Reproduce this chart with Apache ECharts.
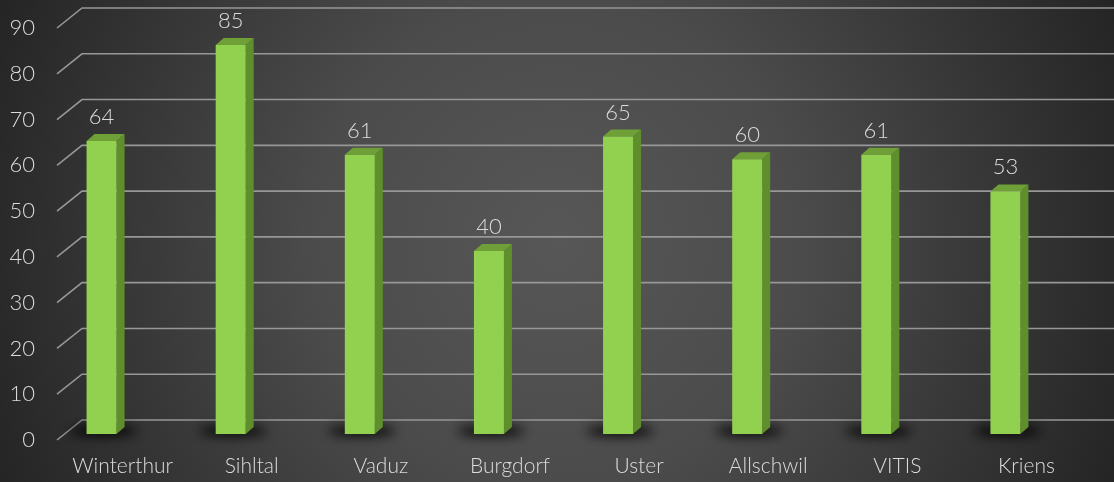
<!DOCTYPE html>
<html>
<head>
<meta charset="utf-8">
<style>
  html, body { margin: 0; padding: 0; background: #2a2a2a; }
  #chart { width: 1114px; height: 482px; }
</style>
<script src="https://cdn.jsdelivr.net/npm/echarts@6/dist/echarts.min.js"></script>
</head>
<body>
<div id="chart"></div>
<script>
var categories = ['Winterthur', 'Sihltal', 'Vaduz', 'Burgdorf', 'Uster', 'Allschwil', 'VITIS', 'Kriens'];
var values = [64, 85, 61, 40, 65, 60, 61, 53];
var yTicks = [0, 10, 20, 30, 40, 50, 60, 70, 80, 90];

var chart = echarts.init(document.getElementById('chart'), null, { renderer: 'canvas' });

var FONT = 'Lato, "Noto Sans", sans-serif';
var TEXT = '#dcdcdc';

function gridLineItem(params, api) {
  var v = api.value(1);
  var p = api.coord([0, v]);
  var cs = params.coordSys;
  var x0 = cs.x - 1;
  var y = p[1];
  return {
    type: 'polyline',
    shape: { points: [[x0, y], [x0 + 25, y - 20], [api.getWidth(), y - 20]] },
    style: { stroke: '#979797', lineWidth: 1.6, fill: null },
    silent: true
  };
}

function barItem(params, api) {
  var i = api.value(0);
  var v = api.value(1);
  var top = api.coord([i, v]);
  var base = api.coord([i, 0]);
  var cx = top[0] - 21;
  var yT = top[1] - 6;
  var yB = base[1] - 6;
  var hw = 15;
  var x0 = cx - hw, x1 = cx + hw;
  var dx = 8, dy = -7;
  var OFF = 3000;
  return {
    type: 'group',
    children: [
      {
        type: 'ellipse',
        shape: { cx: cx + 2 - OFF, cy: yB - 3, rx: 34, ry: 5 },
        style: { fill: '#000', shadowBlur: 12, shadowColor: 'rgba(0,0,0,0.95)', shadowOffsetX: OFF },
        silent: true
      },
      {
        type: 'polygon',
        shape: { points: [[x1, yB], [x1 + dx, yB + dy], [x1 + dx, yT + dy], [x1, yT]] },
        style: { fill: '#5f8f2c' }
      },
      {
        type: 'polygon',
        shape: { points: [[x0, yT], [x0 + dx, yT + dy], [x1 + dx, yT + dy], [x1, yT]] },
        style: { fill: '#6f9f37' }
      },
      {
        type: 'rect',
        shape: { x: x0, y: yT, width: 2 * hw, height: yB - yT },
        style: { fill: '#92d050' }
      },
      {
        type: 'text',
        style: {
          x: cx, y: yT - 24,
          text: String(v),
          fill: TEXT,
          font: '300 22px ' + FONT,
          align: 'center',
          verticalAlign: 'middle'
        }
      }
    ]
  };
}

var option = {
  animation: false,
  backgroundColor: 'transparent',
  graphic: [{
    type: 'rect',
    z: -100,
    silent: true,
    shape: { x: 0, y: 0, width: 1114, height: 482 },
    style: {
      fill: {
        type: 'radial', x: 557, y: 241, r: 612, global: true,
        colorStops: [
          { offset: 0, color: '#575757' },
          { offset: 0.4, color: '#4b4b4b' },
          { offset: 1, color: '#242424' }
        ]
      }
    }
  }],
  grid: { left: 58, right: 23, top: 28, bottom: 42 },
  xAxis: {
    type: 'category',
    data: categories,
    axisLine: { show: false },
    axisTick: { show: false },
    axisLabel: { color: TEXT, fontSize: 21, fontWeight: 300, fontFamily: FONT, margin: 16, interval: 0, hideOverlap: false }
  },
  yAxis: {
    type: 'value',
    min: 0, max: 90, interval: 10,
    splitLine: { show: false },
    axisLine: { show: false },
    axisTick: { show: false },
    axisLabel: { color: TEXT, fontSize: 22, fontWeight: 300, fontFamily: FONT, margin: 23 }
  },
  series: [
    {
      type: 'custom',
      z: 1,
      renderItem: gridLineItem,
      data: yTicks.map(function (t) { return [0, t]; }),
      silent: true
    },
    {
      type: 'custom',
      z: 2,
      renderItem: barItem,
      data: values.map(function (v, i) { return [i, v]; })
    }
  ]
};

chart.setOption(option);
</script>
</body>
</html>
